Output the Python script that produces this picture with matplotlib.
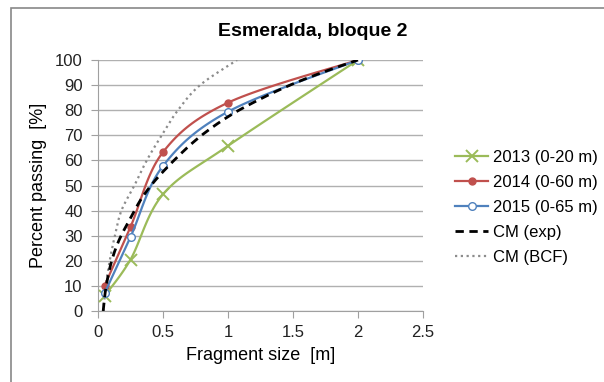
import numpy as np
import matplotlib
matplotlib.use("Agg")
import matplotlib.pyplot as plt
from matplotlib.patches import Rectangle

# ── Data ───────────────────────────────────────────────────────────────────
size_m = [0.05, 0.25, 0.5, 1.0, 2.0]
pass_2013 = [6, 20.5, 46.5, 65.8, 100]
pass_2014 = [10, 33.5, 63.3, 83, 100]
pass_2015 = [7, 29.5, 57.8, 79.4, 100]

cm_exp_x = [0.04, 0.06, 0.10, 0.16, 0.25, 0.35, 0.5, 0.75, 1.0, 1.25, 1.5, 1.75, 2.0]
cm_exp_y = [0, 9, 19, 28, 37, 46, 55.5, 68, 77.4, 84.5, 90.5, 95.5, 100]

cm_bcf_x = [0.04, 0.06, 0.09, 0.13, 0.18, 0.28, 0.375, 0.49, 0.615, 0.785, 1.07]
cm_bcf_y = [0, 10, 20, 30, 40, 50, 60, 70, 80, 90, 100]

labels = ["2013 (0-20 m)", "2014 (0-60 m)", "2015 (0-65 m)", "CM (exp)", "CM (BCF)"]
x_ticks = [0, 0.5, 1, 1.5, 2, 2.5]
y_ticks = list(range(0, 101, 10))

GREEN = "#9BBB59"
RED = "#C0504D"
BLUE = "#4F81BD"
GRAY = "#888888"

plt.rcParams["font.family"] = ["Liberation Sans", "DejaVu Sans"]


def smooth(xs, ys, n=24):
    """Excel-style smoothed line through the points (cubic Bezier segments)."""
    p = np.column_stack([xs, ys]).astype(float)
    out = [p[0]]
    for i in range(len(p) - 1):
        p0 = p[i - 1] if i > 0 else p[i]
        p1, p2 = p[i], p[i + 1]
        p3 = p[i + 2] if i + 2 < len(p) else p[i + 1]
        c1 = p1 + (p2 - p0) / 6.0
        c2 = p2 - (p3 - p1) / 6.0
        t = np.linspace(0, 1, n + 1)[1:, None]
        seg = ((1 - t) ** 3 * p1 + 3 * (1 - t) ** 2 * t * c1
               + 3 * (1 - t) * t ** 2 * c2 + t ** 3 * p2)
        out.extend(seg)
    out = np.array(out)
    return out[:, 0], out[:, 1], n


fig = plt.figure(figsize=(6.04, 3.82), dpi=100)
fig.patches.append(Rectangle((11 / 604, -0.1), 1.2, 1 - 8 / 382 + 0.1,
                             transform=fig.transFigure, fill=False,
                             edgecolor=GRAY, linewidth=1.2))

ax = fig.add_axes([98 / 604, 1 - 311 / 382, 325 / 604, 251 / 382])

series = [
    (pass_2013, GREEN, "x", dict(markersize=8, markeredgewidth=1.4)),
    (pass_2014, RED, "o", dict(markersize=5)),
    (pass_2015, BLUE, "o", dict(markersize=5.5, markerfacecolor="white",
                               markeredgewidth=1.0)),
]
for vals, col, mk, kw in zip([s[0] for s in series], [s[1] for s in series],
                             [s[2] for s in series], [s[3] for s in series]):
    sx, sy, n = smooth(size_m, vals)
    ax.plot(sx, sy, color=col, lw=1.6, marker=mk, markevery=n,
            markeredgecolor=col, zorder=3, **kw)

sx, sy, _ = smooth(cm_exp_x, cm_exp_y)
ax.plot(sx, sy, color="black", lw=2.0, ls=(0, (3, 2)), zorder=4)
sx, sy, _ = smooth(cm_bcf_x, cm_bcf_y)
ax.plot(sx, sy, color="#8C8C8C", lw=1.6, ls=(0, (1, 1.6)), zorder=2)

ax.set_xlim(0, 2.5)
ax.set_ylim(0, 100)
ax.set_xticks(x_ticks)
ax.set_xticklabels(["0", "0.5", "1", "1.5", "2", "2.5"])
ax.set_yticks(y_ticks)
ax.yaxis.grid(True, color="#B0B0B0", lw=1.0)
ax.set_axisbelow(True)
for s in ["top", "right"]:
    ax.spines[s].set_visible(False)
for s in ["left", "bottom"]:
    ax.spines[s].set_color("#A0A0A0")
ax.tick_params(direction="out", length=5, color="#A0A0A0", labelsize=12,
               labelcolor="#222222")
ax.tick_params(axis="y", pad=6)
ax.tick_params(axis="x", pad=5)

ax.set_xlabel("Fragment size  [m]", fontsize=13, labelpad=5)
ax.set_ylabel("Percent passing  [%]", fontsize=13, labelpad=6)
fig.text(313 / 604, 1 - 31 / 382, "Esmeralda, bloque 2", fontsize=14,
         fontweight="bold", ha="center", va="center")

leg = ax.legend(labels, loc="upper left", bbox_to_anchor=(455 / 604, 1 - 150 / 382),
                bbox_transform=fig.transFigure, frameon=False, fontsize=12,
                borderpad=0, borderaxespad=0, handlelength=2.0,
                handletextpad=0.3, labelspacing=0.6)

fig.savefig("out.png", dpi=100)
